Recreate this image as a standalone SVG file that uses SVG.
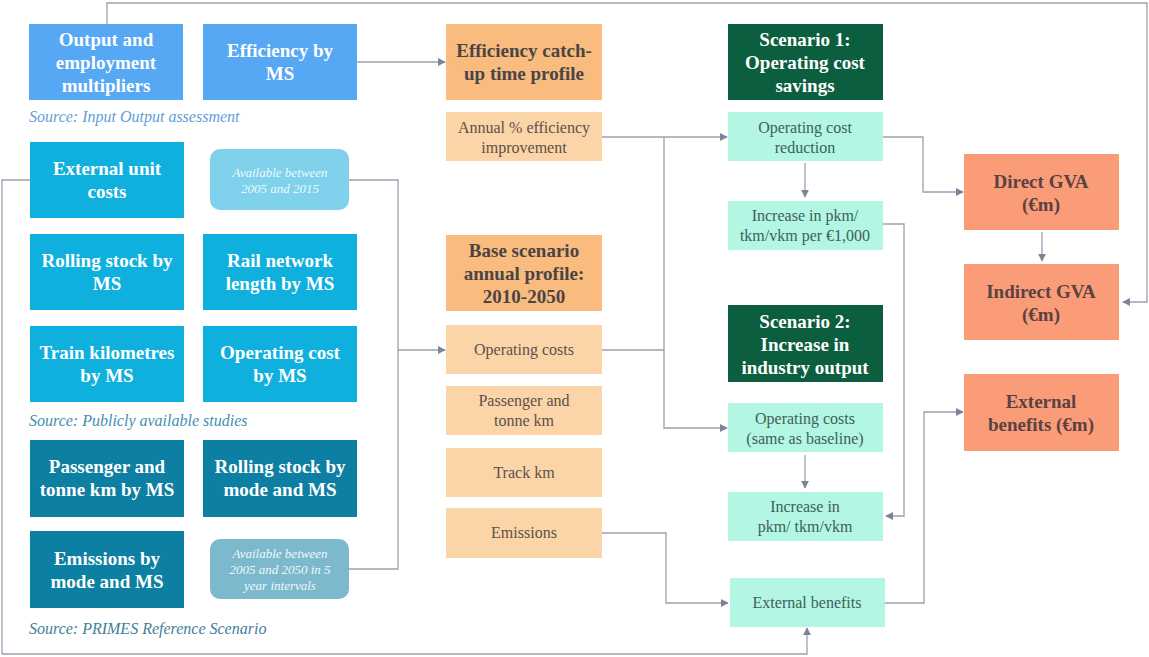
<svg xmlns="http://www.w3.org/2000/svg" width="1149" height="657" viewBox="0 0 1149 657" font-family="'Liberation Serif', 'DejaVu Serif', serif">
  <style>
    text { font-family: 'Liberation Serif', 'DejaVu Serif', serif; }
    .hd { font-weight: bold; font-size: 19px; text-anchor: middle; }
    .lt { font-size: 16px; text-anchor: middle; }
    .src { font-style: italic; font-size: 16px; }
    .av { font-style: italic; font-size: 13px; text-anchor: middle; fill: #eef8fc; }
    .w { fill: #ffffff; }
    .dk { fill: #4a4446; }
    .br { fill: #5e5048; }
    .mt { fill: #3f5f59; }
    .sm { fill: #5a4242; }
    .c-blue { fill: #56a8f4; }
    .c-cyan { fill: #10b0de; }
    .c-teal { fill: #0c7fa2; }
    .c-org { fill: #f9bb7e; }
    .c-orgl { fill: #fbd4a8; }
    .c-grn { fill: #0b5e3e; }
    .c-mint { fill: #b2f6e3; }
    .c-sal { fill: #fb9c78; }
    .conn path { fill: none; stroke: #9aa1ae; stroke-width: 1.3; }
    .conn path.arr { marker-end: url(#ah); }
  </style>
  <defs>
    <marker id="ah" viewBox="0 0 10 10" refX="9" refY="5" markerWidth="8" markerHeight="8" markerUnits="userSpaceOnUse" orient="auto">
      <path d="M0,0 L10,5 L0,10 z" fill="#7b8599"/>
    </marker>
  </defs>
  <rect width="1149" height="657" fill="#ffffff"/>

  <!-- connectors -->
  <g id="connectors" class="conn">
    <path class="arr" d="M107,24 V3 H1147 V302 H1123"/>
    <path class="arr" d="M357,62 H445"/>
    <path class="arr" d="M30,180 H2 V654 H807 V628"/>
    <path d="M349,180 H398 V569 H349"/>
    <path class="arr" d="M398,350 H445"/>
    <path class="arr" d="M602,137 H727"/>
    <path class="arr" d="M664,137 V428 H727"/>
    <path d="M602,350 H664"/>
    <path class="arr" d="M602,533 H666 V603 H728"/>
    <path class="arr" d="M805,163 V197"/>
    <path class="arr" d="M883,137 H923 V192 H963"/>
    <path class="arr" d="M883,224 H904 V516 H886"/>
    <path class="arr" d="M1042,232 V261"/>
    <path class="arr" d="M805,455 V488"/>
    <path class="arr" d="M885,603 H924 V412 H963"/>
  </g>

  <!-- input data: Input Output assessment -->
  <g id="n-multipliers">
    <rect class="c-blue" x="29" y="24" width="154" height="76"/>
    <text class="hd w" x="106" y="46">Output and</text>
    <text class="hd w" x="106" y="69">employment</text>
    <text class="hd w" x="106" y="92">multipliers</text>
  </g>
  <g id="n-efficiency">
    <rect class="c-blue" x="203" y="24" width="154" height="76"/>
    <text class="hd w" x="280" y="57">Efficiency by</text>
    <text class="hd w" x="280" y="80">MS</text>
  </g>
  <text class="src" x="29" y="122" fill="#5f9ed8">Source: Input Output assessment</text>

  <!-- input data: publicly available studies -->
  <g id="n-ext-unit">
    <rect class="c-cyan" x="30" y="142" width="154" height="76"/>
    <text class="hd w" x="107" y="175">External unit</text>
    <text class="hd w" x="107" y="198">costs</text>
  </g>
  <g id="n-avail-1">
    <rect x="210" y="149" width="139" height="61" rx="10" fill="#7fd1ec"/>
    <text class="av" x="280" y="177">Available between</text>
    <text class="av" x="280" y="193">2005 and 2015</text>
  </g>
  <g id="n-rolling-ms">
    <rect class="c-cyan" x="30" y="234" width="154" height="76"/>
    <text class="hd w" x="107" y="267">Rolling stock by</text>
    <text class="hd w" x="107" y="290">MS</text>
  </g>
  <g id="n-network">
    <rect class="c-cyan" x="203" y="234" width="154" height="76"/>
    <text class="hd w" x="280" y="267">Rail network</text>
    <text class="hd w" x="280" y="290">length by MS</text>
  </g>
  <g id="n-train-km">
    <rect class="c-cyan" x="30" y="326" width="154" height="76"/>
    <text class="hd w" x="107" y="359">Train kilometres</text>
    <text class="hd w" x="107" y="382">by MS</text>
  </g>
  <g id="n-opcost-ms">
    <rect class="c-cyan" x="203" y="326" width="154" height="76"/>
    <text class="hd w" x="280" y="359">Operating cost</text>
    <text class="hd w" x="280" y="382">by MS</text>
  </g>
  <text class="src" x="29" y="426" fill="#3f8fb2">Source: Publicly available studies</text>

  <!-- input data: PRIMES -->
  <g id="n-pass-tonne">
    <rect class="c-teal" x="30" y="440" width="154" height="77"/>
    <text class="hd w" x="107" y="473">Passenger and</text>
    <text class="hd w" x="107" y="496">tonne km by MS</text>
  </g>
  <g id="n-rolling-mode">
    <rect class="c-teal" x="203" y="440" width="154" height="77"/>
    <text class="hd w" x="280" y="473">Rolling stock by</text>
    <text class="hd w" x="280" y="496">mode and MS</text>
  </g>
  <g id="n-emissions-mode">
    <rect class="c-teal" x="30" y="531" width="154" height="77"/>
    <text class="hd w" x="107" y="565">Emissions by</text>
    <text class="hd w" x="107" y="588">mode and MS</text>
  </g>
  <g id="n-avail-2">
    <rect x="210" y="539" width="139" height="60" rx="10" fill="#7cb9cd"/>
    <text class="av" x="280" y="558">Available between</text>
    <text class="av" x="280" y="574">2005 and 2050 in 5</text>
    <text class="av" x="280" y="590">year intervals</text>
  </g>
  <text class="src" x="29" y="634" fill="#3f7f98">Source: PRIMES Reference Scenario</text>

  <!-- middle column -->
  <g id="n-catchup">
    <rect class="c-org" x="446" y="24" width="156" height="76"/>
    <text class="hd dk" x="524" y="57">Efficiency catch-</text>
    <text class="hd dk" x="524" y="80">up time profile</text>
  </g>
  <g id="n-annual-eff">
    <rect class="c-orgl" x="446" y="112" width="156" height="49"/>
    <text class="lt br" x="524" y="133">Annual % efficiency</text>
    <text class="lt br" x="524" y="153">improvement</text>
  </g>
  <g id="n-base">
    <rect class="c-org" x="446" y="235" width="156" height="76"/>
    <text class="hd dk" x="524" y="257">Base scenario</text>
    <text class="hd dk" x="524" y="280">annual profile:</text>
    <text class="hd dk" x="524" y="303">2010-2050</text>
  </g>
  <g id="n-opcosts">
    <rect class="c-orgl" x="446" y="325" width="156" height="49"/>
    <text class="lt br" x="524" y="355">Operating costs</text>
  </g>
  <g id="n-pass-km">
    <rect class="c-orgl" x="446" y="386" width="156" height="49"/>
    <text class="lt br" x="524" y="406">Passenger and</text>
    <text class="lt br" x="524" y="426">tonne km</text>
  </g>
  <g id="n-track">
    <rect class="c-orgl" x="446" y="448" width="156" height="49"/>
    <text class="lt br" x="524" y="478">Track km</text>
  </g>
  <g id="n-emissions">
    <rect class="c-orgl" x="446" y="508" width="156" height="50"/>
    <text class="lt br" x="524" y="538">Emissions</text>
  </g>

  <!-- scenarios -->
  <g id="n-scen1">
    <rect class="c-grn" x="728" y="24" width="155" height="76"/>
    <text class="hd w" x="805" y="46">Scenario 1:</text>
    <text class="hd w" x="805" y="69">Operating cost</text>
    <text class="hd w" x="805" y="92">savings</text>
  </g>
  <g id="n-oc-reduction">
    <rect class="c-mint" x="728" y="112" width="155" height="49"/>
    <text class="lt mt" x="805" y="133">Operating cost</text>
    <text class="lt mt" x="805" y="153">reduction</text>
  </g>
  <g id="n-inc-per">
    <rect class="c-mint" x="728" y="201" width="155" height="49"/>
    <text class="lt mt" x="805" y="221">Increase in pkm/</text>
    <text class="lt mt" x="805" y="241">tkm/vkm per €1,000</text>
  </g>
  <g id="n-scen2">
    <rect class="c-grn" x="728" y="305" width="155" height="77"/>
    <text class="hd w" x="805" y="328">Scenario 2:</text>
    <text class="hd w" x="805" y="351">Increase in</text>
    <text class="hd w" x="805" y="374">industry output</text>
  </g>
  <g id="n-oc-same">
    <rect class="c-mint" x="728" y="403" width="155" height="49"/>
    <text class="lt mt" x="805" y="424">Operating costs</text>
    <text class="lt mt" x="805" y="444">(same as baseline)</text>
  </g>
  <g id="n-inc">
    <rect class="c-mint" x="728" y="492" width="155" height="49"/>
    <text class="lt mt" x="805" y="512">Increase in</text>
    <text class="lt mt" x="805" y="532">pkm/ tkm/vkm</text>
  </g>
  <g id="n-ext-ben">
    <rect class="c-mint" x="730" y="578" width="155" height="49"/>
    <text class="lt mt" x="807" y="608">External benefits</text>
  </g>

  <!-- outputs -->
  <g id="n-direct">
    <rect class="c-sal" x="964" y="154" width="155" height="76"/>
    <text class="hd sm" x="1041" y="188">Direct GVA</text>
    <text class="hd sm" x="1041" y="211">(€m)</text>
  </g>
  <g id="n-indirect">
    <rect class="c-sal" x="964" y="264" width="155" height="76"/>
    <text class="hd sm" x="1041" y="298">Indirect GVA</text>
    <text class="hd sm" x="1041" y="321">(€m)</text>
  </g>
  <g id="n-ext-ben-m">
    <rect class="c-sal" x="964" y="374" width="155" height="77"/>
    <text class="hd sm" x="1041" y="408">External</text>
    <text class="hd sm" x="1041" y="431">benefits (€m)</text>
  </g>
</svg>
